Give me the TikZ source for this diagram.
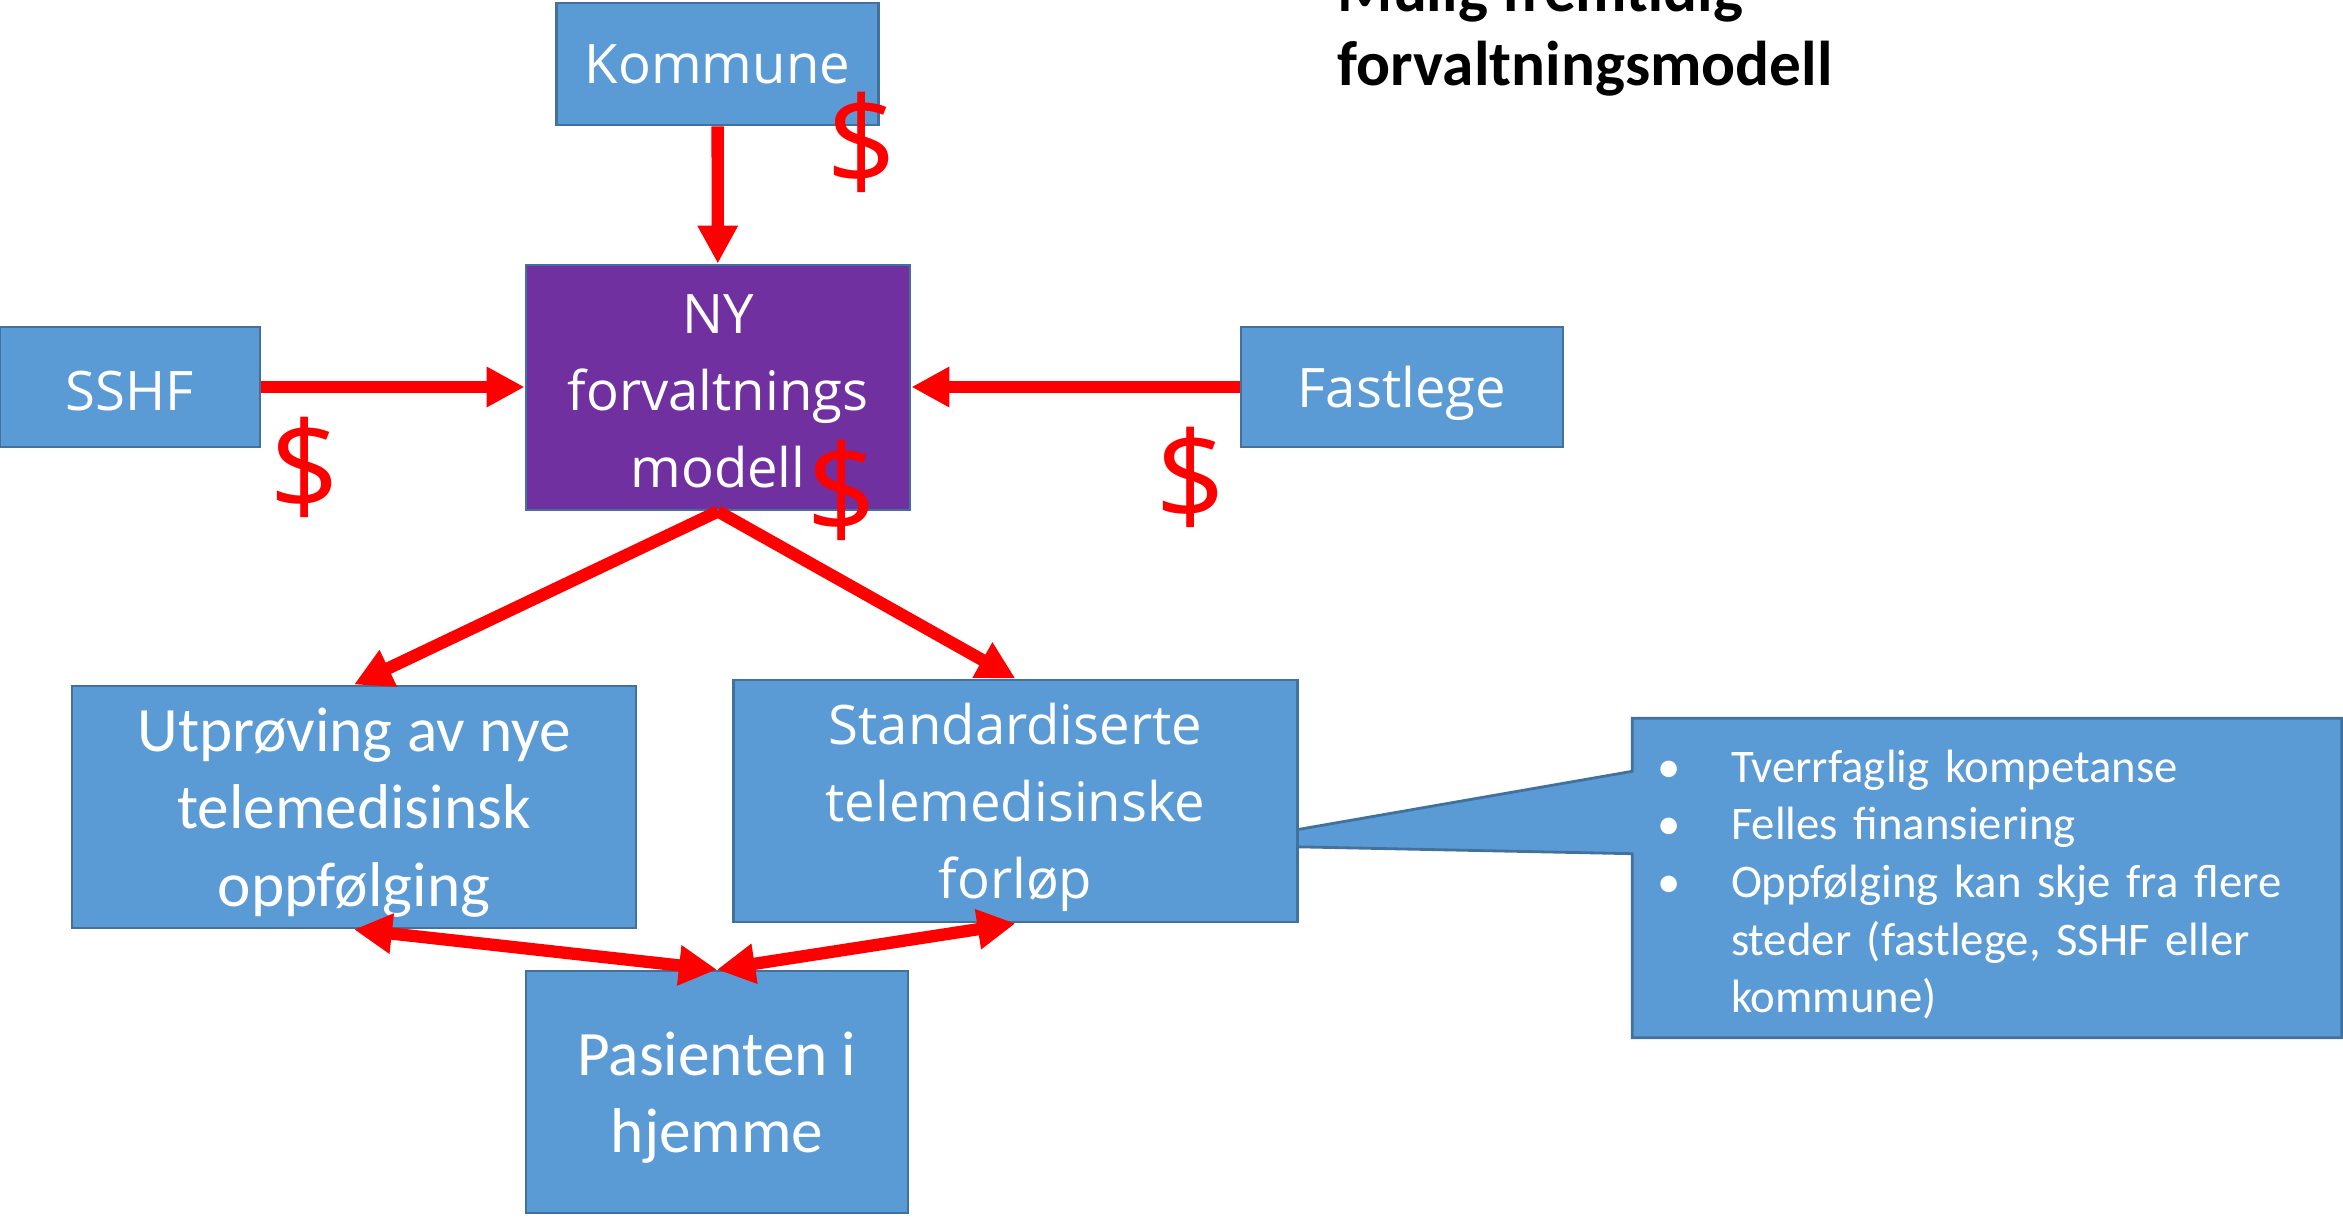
\documentclass[tikz,border=0pt]{standalone}
\usepackage{fontspec}
\setmainfont{Carlito}
\newfontfamily\boxfont{Open Sans}
\usetikzlibrary{arrows.meta,backgrounds}

\definecolor{boxblue}{RGB}{91,155,213}
\definecolor{boxedge}{RGB}{65,113,156}
\definecolor{nypurple}{RGB}{112,48,160}
\newcommand{\boxstrut}{\rule{0pt}{15.5pt}}

\begin{document}
\begin{tikzpicture}[
	box/.style={draw=boxedge, line width=0.8pt, fill=boxblue, text=white, align=center, inner sep=0pt},
	obox/.style={box, font=\boxfont\fontsize{15.5}{21.9}\selectfont},
	cbox/.style={box, font=\fontsize{18}{22}\selectfont},
	flow/.style={red, line width=3.5pt, -{Triangle[length=0.38cm,width=0.38cm]}},
	twoway/.style={red, line width=3.5pt, {Triangle[length=0.38cm,width=0.38cm]}-{Triangle[length=0.38cm,width=0.38cm]}},
	money/.style={text=red, font=\boxfont\fontsize{35}{35}\selectfont, inner sep=0pt},
	notebox/.style={draw=boxedge, line width=0.8pt, fill=boxblue}
]
	\useasboundingbox (0,0) rectangle (23.43,-12.18);

	\node[obox, minimum width=3.22cm, minimum height=1.22cm] (kommune) at (7.175,-0.64) {Kommune};
	\node[obox, fill=nypurple, minimum width=3.84cm, minimum height=2.45cm] (ny) at (7.18,-3.875) {\rule{0pt}{13.5pt}NY\\forvaltnings\\modell};
	\node[obox, minimum width=2.60cm, minimum height=1.20cm] (sshf) at (1.30,-3.87) {\rule{0pt}{13.5pt}SSHF};
	\node[obox, minimum width=3.22cm, minimum height=1.20cm] (fastlege) at (14.02,-3.87) {\boxstrut Fastlege};
	\node[cbox, minimum width=5.64cm, minimum height=2.42cm] (utproving) at (3.54,-8.07) {\boxstrut Utprøving av nye\\telemedisinsk\\oppfølging};
	\node[obox, minimum width=5.64cm, minimum height=2.42cm] (standard) at (10.155,-8.01) {\boxstrut Standardiserte\\telemedisinske\\forløp};
	\node[cbox, minimum width=3.82cm, minimum height=2.42cm] (pasient) at (7.17,-10.92) {\boxstrut Pasienten i\\hjemme};

	\node[text=white, align=left, inner xsep=0.24cm, inner ysep=0pt, text width=6.6cm, minimum height=3.18cm, font=\fontsize{13.3}{16.4}\selectfont] (note) at (19.87,-8.78) {%
		\rule{0pt}{13pt}\makebox[0.74cm][l]{\textbullet}Tverrfaglig kompetanse\\
		\makebox[0.74cm][l]{\textbullet}Felles finansiering\\
		\makebox[0.74cm][l]{\textbullet}Oppfølging kan skje fra flere\\
		\hspace*{0.74cm}steder (fastlege, SSHF eller\\
		\hspace*{0.74cm}kommune)};
	\coordinate (tip) at (12.09,-8.45);
	\begin{pgfonlayer}{background}
		\draw[notebox] (note.north west) -- (note.north east) -- (note.south east) -- (note.south west)
			-- ([yshift=1.84cm]note.south west) -- (tip) -- ([yshift=-0.53cm]note.north west) -- cycle;
	\end{pgfonlayer}

	\node[font=\bfseries\fontsize{18}{21}\selectfont, align=left, inner sep=0pt, anchor=south west] (title) at (13.37,-0.97) {Mulig fremtidig\\forvaltningsmodell};

	\draw[flow] (kommune) -- (ny);
	\draw[flow] (sshf.east) -- (sshf.east -| ny.west);
	\draw[flow] (fastlege.west) -- (fastlege.west -| ny.east);
	\draw[flow] (ny.south) -- (utproving.north);
	\draw[flow] (ny.south) -- (standard.north);
	\draw[twoway] (utproving.south) -- (pasient.north);
	\draw[twoway] (standard.south) -- (pasient.north);

	\node[money] (kommunecost) at (8.62,-1.42) {\$};
	\node[money] (nycost) at (8.42,-4.90) {\$};
	\node[money] (sshfcost) at (3.05,-4.67) {\$};
	\node[money] (fastlegecost) at (11.91,-4.77) {\$};
\end{tikzpicture}
\end{document}
